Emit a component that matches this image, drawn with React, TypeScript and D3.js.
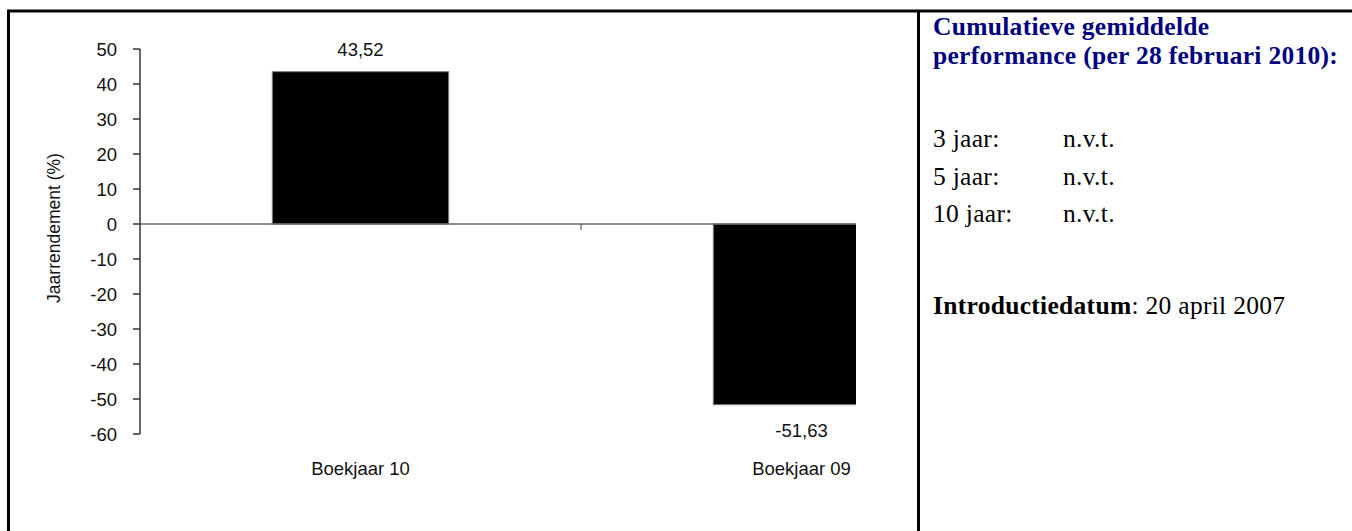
import React from "react";
import * as d3 from "d3";

const categories = ["Boekjaar 10", "Boekjaar 09"];
const values = [43.52, -51.63];
const yTicks = [50, 40, 30, 20, 10, 0, -10, -20, -30, -40, -50, -60];
const yAxisTitle = "Jaarrendement (%)";
const panelTitle = ["Cumulatieve gemiddelde", "performance (per 28 februari 2010):"];
const perfLabels = ["3 jaar:", "5 jaar:", "10 jaar:"];
const perfValues = ["n.v.t.", "n.v.t.", "n.v.t."];
const introLabel = "Introductiedatum";
const introValue = ": 20 april 2007";

const W = 1352;
const H = 531;
const SANS = "'Liberation Sans', Arial, sans-serif";
const SERIF = "'Liberation Serif', 'Times New Roman', serif";

export default function App() {
  const y = d3.scaleLinear().domain([-60, 50]).range([434, 49]);
  const x = d3
    .scaleBand<string>()
    .domain(categories)
    .range([140, 1022])
    .paddingInner(0.6)
    .paddingOuter(0.3);
  const step = x.step();
  const x0 = x.range()[0];
  const boundaries = categories.map((_, i) => x0 + step * (i + 1));
  const fmt = (v: number) => d3.format(".2f")(v).replace(".", ",").replace("\u2212", "-");
  const fmtTick = (v: number) => String(v);

  return (
    <svg
      width={W}
      height={H}
      style={{ position: "absolute", left: 0, top: 0, background: "#fff" }}
    >
      <defs>
        <clipPath id="plotClip">
          <rect x={0} y={0} width={856} height={H} />
        </clipPath>
      </defs>
      <rect x={0} y={0} width={W} height={H} fill="#fff" />
      {/* frame */}
      <line x1={7} x2={W} y1={11} y2={11} stroke="#000" strokeWidth={3} />
      <line x1={8.5} x2={8.5} y1={10} y2={H} stroke="#000" strokeWidth={3} />
      <line x1={918.5} x2={918.5} y1={10} y2={H} stroke="#000" strokeWidth={3} />

      {/* chart */}
      <g clipPath="url(#plotClip)">
        {categories.map((c, i) => {
          const v = values[i];
          const top = y(Math.max(0, v));
          const h = Math.abs(y(v) - y(0));
          return (
            <rect
              key={c}
              x={x(c)}
              y={top}
              width={x.bandwidth()}
              height={h}
              fill="#000"
              stroke="#808080"
              strokeWidth={1}
            />
          );
        })}
        <line x1={140} x2={1022} y1={y(0)} y2={y(0)} stroke="#666" strokeWidth={1.5} />
        {boundaries.map((b, i) => (
          <line key={i} x1={b} x2={b} y1={y(0)} y2={y(0) + 6} stroke="#444" strokeWidth={1} />
        ))}
      </g>
      {/* y axis */}
      <line x1={140} x2={140} y1={y(50)} y2={y(-60)} stroke="#333" strokeWidth={1.5} />
      {yTicks.map((t) => (
        <g key={t}>
          <line x1={133} x2={140} y1={y(t)} y2={y(t)} stroke="#333" strokeWidth={1.5} />
          <text
            x={117}
            y={y(t)}
            dy="0.36em"
            textAnchor="end"
            fontFamily={SANS}
            fontSize={18.5}
            fill="#111"
          >
            {fmtTick(t)}
          </text>
        </g>
      ))}
      <text
        transform={`translate(60,${228}) rotate(-90)`}
        textAnchor="middle"
        fontFamily={SANS}
        fontSize={17.5}
        fill="#111"
      >
        {yAxisTitle}
      </text>
      {categories.map((c, i) => {
        const cx = (x(c) as number) + x.bandwidth() / 2;
        const v = values[i];
        const ly = v >= 0 ? y(v) - 16 : y(v) + 32;
        return (
          <g key={c}>
            <text x={cx} y={ly} textAnchor="middle" fontFamily={SANS} fontSize={18.5} fill="#111">
              {fmt(v)}
            </text>
            <text x={cx} y={475} textAnchor="middle" fontFamily={SANS} fontSize={18.5} fill="#111">
              {c}
            </text>
          </g>
        );
      })}

      {/* right panel */}
      {panelTitle.map((t, i) => (
        <text
          key={t}
          x={933}
          y={35 + i * 29}
          fontFamily={SERIF}
          fontWeight="bold"
          fontSize={25.5}
          letterSpacing={0.3}
          fill="#000080"
        >
          {t}
        </text>
      ))}
      {perfLabels.map((l, i) => (
        <g key={l}>
          <text x={933} y={147 + i * 37.5} fontFamily={SERIF} fontSize={25.5} letterSpacing={0.3} fill="#000">
            {l}
          </text>
          <text x={1063} y={147 + i * 37.5} fontFamily={SERIF} fontSize={25.5} letterSpacing={0.3} fill="#000">
            {perfValues[i]}
          </text>
        </g>
      ))}
      <text x={933} y={314} fontFamily={SERIF} fontSize={25.5} letterSpacing={0.3} fill="#000">
        <tspan fontWeight="bold">{introLabel}</tspan>
        <tspan>{introValue}</tspan>
      </text>
    </svg>
  );
}
